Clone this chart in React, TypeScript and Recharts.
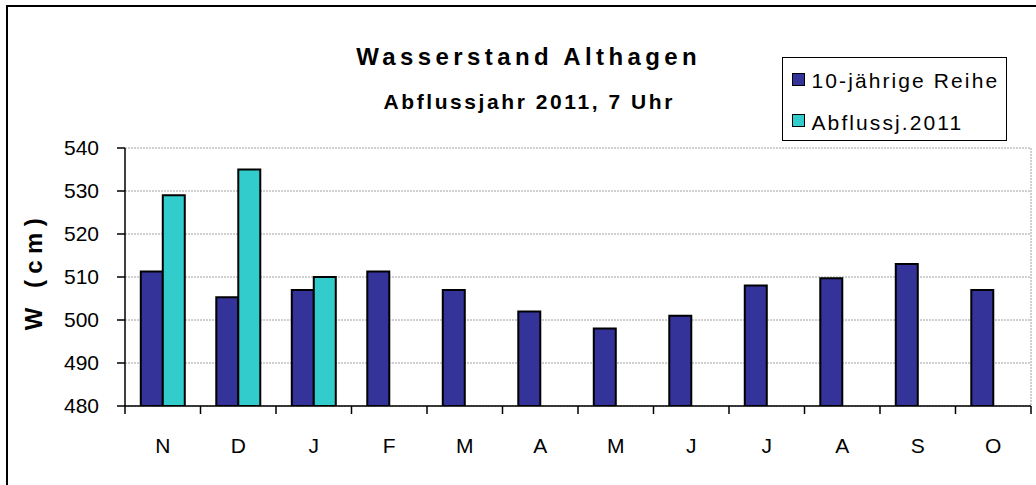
import React from 'react';
import { BarChart, Bar, XAxis, YAxis, CartesianGrid, Legend } from 'recharts';

const months = ['N', 'D', 'J', 'F', 'M', 'A', 'M', 'J', 'J', 'A', 'S', 'O'];
const avgSeries = [511.3, 505.3, 507, 511.3, 507, 502, 498, 501, 508, 509.7, 513, 507];
const year2011 = [529, 535, 510, null, null, null, null, null, null, null, null, null];
const yTicks = [480, 490, 500, 510, 520, 530, 540];

const seriesNames = { avg: '10-jährige Reihe', y2011: 'Abflussj.2011' };

const data = months.map((m, i) => ({ m, avg: avgSeries[i], y2011: year2011[i] }));

const FONT = '"Liberation Sans", Arial, Helvetica, sans-serif';

const MonthTick = (props: any) => {
  const { x, y, payload, index } = props;
  const half = payload && typeof payload.offset === 'number' ? payload.offset : 0;
  const axisY = y - 32;
  return (
    <g>
      <line x1={x - half} x2={x - half} y1={axisY} y2={axisY + 8} stroke="#000" strokeWidth={1.5} />
      {index === months.length - 1 ? (
        <line x1={x + half} x2={x + half} y1={axisY} y2={axisY + 8} stroke="#000" strokeWidth={1.5} />
      ) : null}
      <text x={x} y={y} dy="0.71em" textAnchor="middle" fill="#000" fontSize={21} fontFamily={FONT}>
        {payload.value}
      </text>
    </g>
  );
};

const LegendBox = (props: any) => {
  const payload = props.payload || [];
  const rows = [11.7, 53.7];
  const swatches = [14.5, 55.5];
  return (
    <div style={{ position: 'relative', width: '100%', height: '100%' }}>
      {payload.map((p: any, i: number) => (
        <React.Fragment key={i}>
          <div
            style={{
              position: 'absolute',
              left: 9,
              top: swatches[i],
              width: 13,
              height: 13,
              boxSizing: 'border-box',
              border: '1.5px solid #000',
              background: p.color,
            }}
          />
          <div
            style={{
              position: 'absolute',
              left: 28.5,
              top: rows[i],
              fontFamily: FONT,
              fontSize: 21,
              lineHeight: '21px',
              letterSpacing: 2.1,
              color: '#000',
              whiteSpace: 'nowrap',
            }}
          >
            {p.value}
          </div>
        </React.Fragment>
      ))}
    </div>
  );
};

export default function App() {
  return (
    <div
      style={{
        position: 'absolute',
        left: 0,
        top: 0,
        width: 1036,
        height: 485,
        overflow: 'hidden',
        background: '#fff',
        fontFamily: FONT,
      }}
    >
      <div
        style={{
          position: 'absolute',
          left: 6,
          top: 5,
          width: 1040,
          height: 490,
          border: '2px solid #000',
        }}
      />
      <BarChart
        width={1036}
        height={485}
        data={data}
        margin={{ top: 148, right: 5, bottom: 0, left: 65 }}
        barCategoryGap="20.9%"
        barGap={0}
        style={{ position: 'absolute', left: 0, top: 0 }}
      >
        <CartesianGrid
          stroke="#a0a0a0"
          strokeDasharray="2 1"
          verticalCoordinatesGenerator={(p: any) => [p.offset.left + p.offset.width]}
        />
        <XAxis
          dataKey="m"
          height={79}
          interval={0}
          tickLine={false}
          axisLine={{ stroke: '#000', strokeWidth: 1.5 }}
          tickSize={6}
          tickMargin={26}
          tick={<MonthTick />}
        />
        <YAxis
          domain={[480, 540]}
          ticks={yTicks}
          allowDataOverflow
          width={60}
          tickSize={8}
          tickMargin={18}
          axisLine={{ stroke: '#000', strokeWidth: 1.5 }}
          tickLine={{ stroke: '#000', strokeWidth: 1.5 }}
          tick={{ fill: '#000', fontSize: 21, fontFamily: FONT }}
        />
        <Legend
          layout="horizontal"
          align="center"
          verticalAlign="middle"
          content={<LegendBox />}
          wrapperStyle={{
            position: 'absolute',
            left: 782,
            top: 57,
            width: 225,
            height: 84,
            boxSizing: 'border-box',
            border: '1.5px solid #000',
            background: '#fff',
          }}
        />
        <Bar
          dataKey="avg"
          name={seriesNames.avg}
          fill="#333399"
          stroke="#000"
          strokeWidth={2}
          isAnimationActive={false}
        />
        <Bar
          dataKey="y2011"
          name={seriesNames.y2011}
          fill="#33CCCC"
          stroke="#000"
          strokeWidth={2}
          isAnimationActive={false}
        />
      </BarChart>
      <div
        style={{
          position: 'absolute',
          left: 228.7,
          top: 44.7,
          width: 600,
          textAlign: 'center',
          fontSize: 24,
          lineHeight: '24px',
          fontWeight: 'bold',
          letterSpacing: 4.4,
          color: '#000',
        }}
      >
        Wasserstand Althagen
      </div>
      <div
        style={{
          position: 'absolute',
          left: 229.3,
          top: 91.2,
          width: 600,
          textAlign: 'center',
          fontSize: 21,
          lineHeight: '21px',
          fontWeight: 'bold',
          letterSpacing: 2.57,
          color: '#000',
        }}
      >
        Abflussjahr 2011, 7 Uhr
      </div>
      <div
        style={{
          position: 'absolute',
          left: -66.2,
          top: 258.8,
          width: 200,
          height: 24,
          textAlign: 'center',
          fontSize: 24,
          lineHeight: '24px',
          fontWeight: 'bold',
          letterSpacing: 6.4,
          color: '#000',
          transform: 'rotate(-90deg)',
        }}
      >
        W (cm)
      </div>
    </div>
  );
}
